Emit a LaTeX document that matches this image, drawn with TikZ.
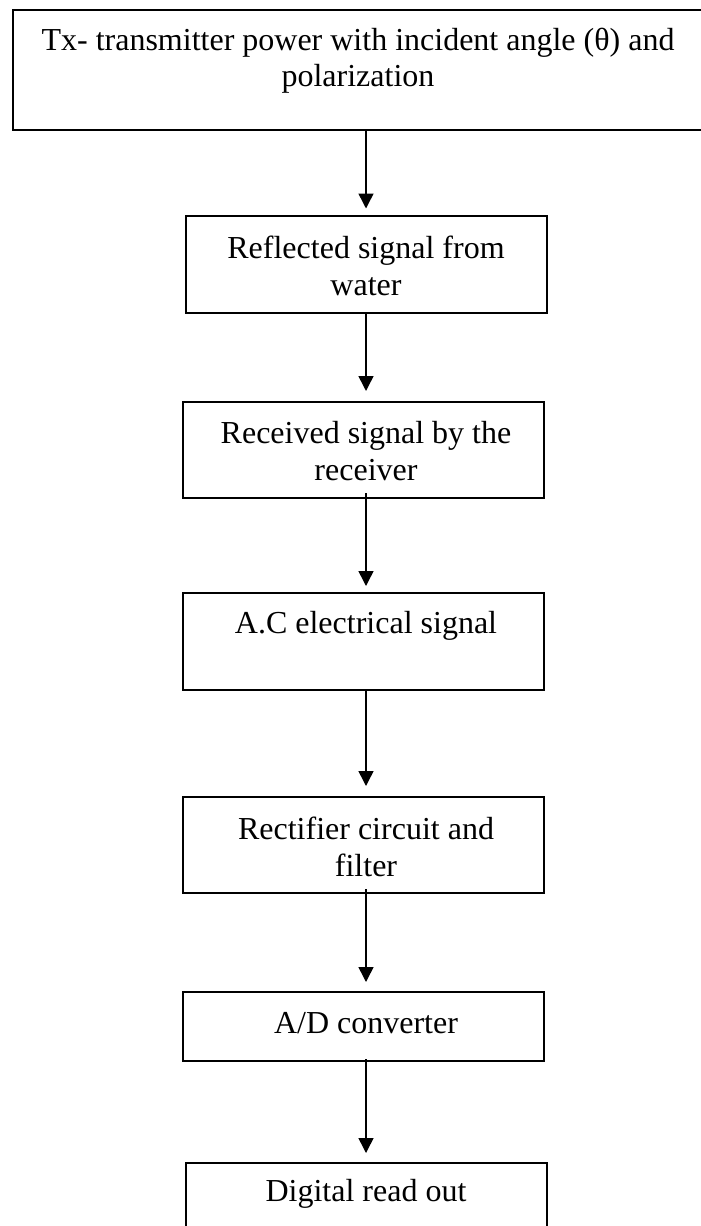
\documentclass[tikz,border=0pt]{standalone}
\usepackage{fontspec}
\setmainfont{Liberation Serif}
\usetikzlibrary{arrows.meta}
\begin{document}
\begin{tikzpicture}[x=0.4pt,y=-0.4pt,
  box/.style={draw=black, line width=0.8pt, rectangle, inner sep=0pt, fill=none},
  txt/.style={align=center, inner sep=0pt, font=\fontsize{12.8}{14.5}\selectfont},
  arr/.style={draw=black, line width=0.6pt, -{Triangle[length=6pt,width=6pt]}}]
\useasboundingbox (0,0) rectangle (700,1226);
% boxes
\node[box, minimum width=276pt, minimum height=48pt] (b1) at (358,70) {};
\node[box, minimum width=144.4pt, minimum height=38.8pt] (b2) at (366.5,264.5) {};
\node[box, minimum width=144.4pt, minimum height=38.4pt] (b3) at (363.5,450) {};
\node[box, minimum width=144.4pt, minimum height=38.8pt] (b4) at (363.5,641.5) {};
\node[box, minimum width=144.4pt, minimum height=38.4pt] (b5) at (363.5,845) {};
\node[box, minimum width=144.4pt, minimum height=27.6pt] (b6) at (363.5,1026.5) {};
\node[box, minimum width=144.4pt, minimum height=30pt] (b7) at (366.5,1200.5) {};
% texts
\node[txt] (t1) at (358,61) {Tx- transmitter power with incident angle (θ) and\\polarization};
\node[txt] (t2) at (366,266) {Reflected signal from\\water};
\node[txt] (t3) at (366,451) {Received signal by the\\receiver};
\node[txt] (t4) at (366,626) {A.C electrical signal};
\node[txt] (t5) at (366,847) {Rectifier circuit and\\filter};
\node[txt] (t6) at (366,1023) {A/D converter};
\node[txt] (t7) at (366,1194) {Digital read out};
% connectors
\draw[arr, shorten >=2.6pt] (b1.south -| 366,0) -- (b2.north -| 366,0);
\draw[arr, shorten >=4pt] (b2.south -| 366,0) -- (b3.north -| 366,0);
\draw[arr, shorten <=-2.4pt, shorten >=2.4pt] (b3.south -| 366,0) -- (b4.north -| 366,0);
\draw[arr, shorten >=4pt] (b4.south -| 366,0) -- (b5.north -| 366,0);
\draw[arr, shorten <=-2pt, shorten >=3.6pt] (b5.south -| 366,0) -- (b6.north -| 366,0);
\draw[arr, shorten <=-1.2pt, shorten >=3.6pt] (b6.south -| 366,0) -- (b7.north -| 366,0);
\end{tikzpicture}
\end{document}
